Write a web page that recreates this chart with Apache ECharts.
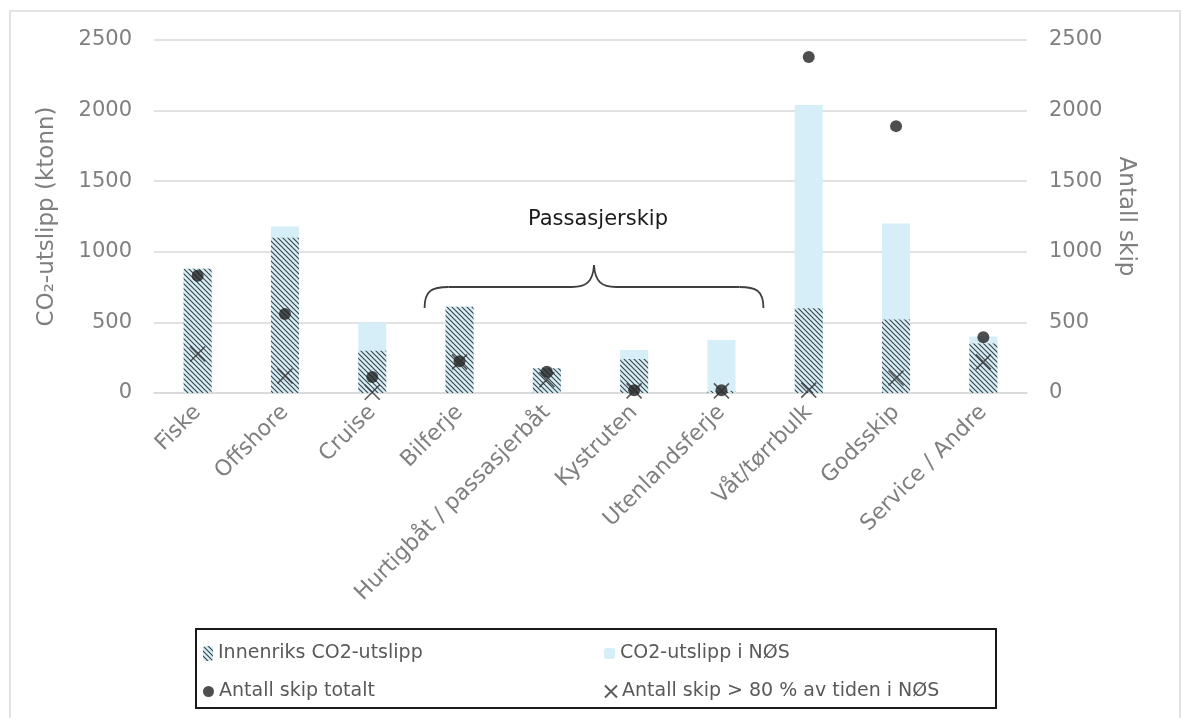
<!DOCTYPE html>
<html>
<head>
<meta charset="utf-8">
<script src="https://cdn.jsdelivr.net/npm/echarts@6/dist/echarts.min.js"></script>
<style>html,body{margin:0;padding:0;background:#fff;}#c{width:1182px;height:718px;}</style>
</head>
<body>
<div id="c"></div>
<script>
const categories = ['Fiske','Offshore','Cruise','Bilferje','Hurtigbåt / passasjerbåt','Kystruten','Utenlandsferje','Våt/tørrbulk','Godsskip','Service / Andre'];
const nosValues = [880, 1180, 500, 610, 175, 305, 375, 2040, 1200, 400];
const innenriksValues = [880, 1100, 300, 610, 175, 240, 15, 600, 520, 350];
const shipsTotal = [830, 560, 113, 225, 150, 20, 20, 2380, 1890, 395];
const ships80 = [276, 120, 5, 220, 95, 15, 15, 20, 106, 220];
const axisTicks = [0, 500, 1000, 1500, 2000, 2500];

const FONT = 'DejaVu Sans';
const GRAY = '#7f7f7f';
const LIGHT = '#d6eef8';

function makeHatch(){
  const s = 5;
  const c = document.createElement('canvas');
  c.width = s; c.height = s;
  const g = c.getContext('2d');
  g.fillStyle = LIGHT; g.fillRect(0,0,s,s);
  g.strokeStyle = '#3c4448'; g.lineWidth = 1.15;
  g.beginPath();
  g.moveTo(-1,-1); g.lineTo(s+1,s+1);
  g.moveTo(-1,s-1); g.lineTo(1,s+1);
  g.moveTo(s-1,-1); g.lineTo(s+1,1);
  g.stroke();
  return c;
}
const hatch = {image: makeHatch(), repeat: 'repeat'};

const chart = echarts.init(document.getElementById('c'));
const legendText = {color:'#595959', fontSize:19, fontFamily:FONT};
function oneLegend(name, left, top, w, h){
  return {data:[name], left:left, top:top, itemWidth:w, itemHeight:h, itemGap:0,
    textStyle:legendText, selectedMode:false, padding:0};
}
const tickFmt = v => (axisTicks.indexOf(v) >= 0 ? String(v) : '');
chart.setOption({
  animation:false,
  textStyle:{fontFamily:FONT},
  grid:{left:154, right:155, top:40, bottom:325, containLabel:false},
  legend:[
    oneLegend('Innenriks CO2-utslipp', 203, 644, 10, 15),
    oneLegend('CO2-utslipp i NØS', 604, 644, 11, 11),
    oneLegend('Antall skip totalt', 203, 682, 11, 11),
    oneLegend('Antall skip > 80 % av tiden i NØS', 604, 682, 12, 12)
  ],
  xAxis:{type:'category', data:categories,
    axisLine:{lineStyle:{color:'#d9d9d9', width:1.5}},
    axisTick:{show:false},
    axisLabel:{rotate:45, color:GRAY, fontSize:22, fontFamily:FONT, margin:16, interval:0}
  },
  yAxis:[
    {type:'value', min:0, max:2500, interval:500,
      name:'CO₂-utslipp (ktonn)', nameLocation:'middle', nameGap:95,
      nameTextStyle:{color:GRAY, fontSize:23, fontFamily:FONT},
      axisLabel:{color:GRAY, fontSize:21, margin:22, fontFamily:FONT, formatter:tickFmt},
      axisLine:{show:false}, axisTick:{show:false},
      splitLine:{lineStyle:{color:'#d9d9d9', width:1.5}}},
    {type:'value', min:0, max:2500, interval:500,
      name:'Antall skip', nameLocation:'middle', nameGap:87, nameRotate:-90,
      nameTextStyle:{color:GRAY, fontSize:23, fontFamily:FONT},
      axisLabel:{color:GRAY, fontSize:21, margin:22, fontFamily:FONT, formatter:tickFmt},
      axisLine:{show:false}, axisTick:{show:false}, splitLine:{show:false}}
  ],
  series:[
    {name:'CO2-utslipp i NØS', type:'bar', data:nosValues, barWidth:28,
      itemStyle:{color:LIGHT}, z:2},
    {name:'Innenriks CO2-utslipp', type:'bar', data:innenriksValues, barWidth:28, barGap:'-100%',
      itemStyle:{color:hatch}, z:3},
    {name:'Antall skip totalt', type:'scatter', yAxisIndex:1, data:shipsTotal,
      symbol:'circle', symbolSize:12, itemStyle:{color:'#222222'}, z:5},
    {name:'Antall skip > 80 % av tiden i NØS', type:'scatter', yAxisIndex:1, data:ships80,
      symbol:'path://M0,0L10,10M10,0L0,10', symbolSize:15,
      itemStyle:{color:'rgba(0,0,0,0)', borderColor:'#333', borderWidth:1.6}, z:6}
  ]
});

// annotation: brace over passenger ship categories
const xl = chart.convertToPixel({xAxisIndex:0}, 'Bilferje') - 35;
const xr = chart.convertToPixel({xAxisIndex:0}, 'Utenlandsferje') + 42;
const yb = 308, yh = 287, yt = 265;
const xm = (xl + xr) / 2;
const braceStyle = {fill:'none', stroke:'#404040', lineWidth:1.8};
function bz(x1,y1,c1x,c1y,c2x,c2y,x2,y2){
  return {type:'bezierCurve', shape:{x1:x1,y1:y1,cpx1:c1x,cpy1:c1y,cpx2:c2x,cpy2:c2y,x2:x2,y2:y2}, style:braceStyle, silent:true};
}
function ln(x1,y1,x2,y2){
  return {type:'line', shape:{x1:x1,y1:y1,x2:x2,y2:y2}, style:braceStyle, silent:true};
}
chart.setOption({
  graphic:[
    {type:'rect', shape:{x:10, y:11, width:1170, height:720},
      style:{fill:'none', stroke:'#e3e3e3', lineWidth:2}, silent:true, z:-1},
    bz(xl,yb, xl,yh+3, xl+8,yh, xl+24,yh),
    ln(xl+24,yh, xm-22,yh),
    bz(xm-22,yh, xm-8,yh, xm-1,yh-5, xm,yt),
    bz(xm,yt, xm+1,yh-5, xm+8,yh, xm+22,yh),
    ln(xm+22,yh, xr-24,yh),
    bz(xr-24,yh, xr-8,yh, xr,yh+3, xr,yb),
    {type:'text', x:xm + 4, y:220,
      style:{text:'Passasjerskip', fill:'#1a1a1a', fontSize:21, fontFamily:FONT, align:'center', verticalAlign:'middle'}},
    {type:'rect', shape:{x:196, y:629, width:800, height:79},
      style:{fill:'none', stroke:'#1a1a1a', lineWidth:2}, silent:true}
  ]
});
</script>
</body>
</html>
